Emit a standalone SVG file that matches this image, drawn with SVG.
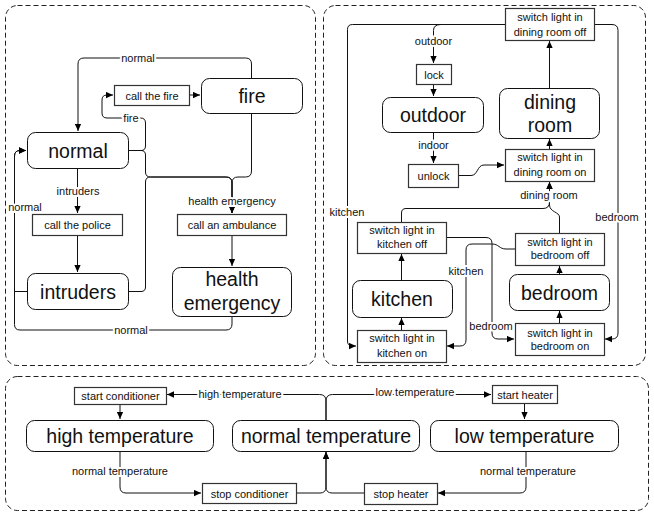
<svg xmlns="http://www.w3.org/2000/svg" width="654" height="516" viewBox="0 0 654 516">
<style>
text{font-family:"Liberation Sans",Arial,sans-serif;text-anchor:middle;fill:#111}
.big{font-size:19.5px}
.sm{font-size:11px}
.lbl{font-size:11px;paint-order:stroke;stroke:#fff;stroke-width:4px;stroke-linejoin:round}
.panel{fill:none;stroke:#222;stroke-width:1;stroke-dasharray:5,3}
.st{fill:#fff;stroke:#111;stroke-width:1}
.ac{fill:#fff;stroke:#333;stroke-width:1.2}
#connectors path{fill:none;stroke:#111;stroke-width:1}
.arr{marker-end:url(#a)}
</style>
<defs>
<marker id="a" viewBox="0 0 10 10" refX="10" refY="5" markerWidth="7" markerHeight="7" orient="auto" markerUnits="userSpaceOnUse"><path d="M0,0.5 L10,5 L0,9.5 z" fill="#000"/></marker>
</defs>
<rect width="654" height="516" fill="#fff"/>
<g id="panels">
<rect class="panel" x="5.5" y="5.5" width="310" height="360" rx="12"/>
<rect class="panel" x="323.5" y="5.5" width="322" height="360" rx="12"/>
<rect class="panel" x="5.5" y="376.5" width="643" height="134" rx="12"/>
</g>
<g id="connectors">
<!-- left panel -->
<path class="arr" d="M251.5,78 V64 q0,-6 -6,-6 H84 q-6,0 -6,6 V131"/>
<path class="arr" d="M128,150.5 H141 q4.5,0 4.5,-4.5 V123 q0,-5 -5,-5 H107 q-5,0 -5,-5 V100 q0,-5 5,-5 H113"/>
<path class="arr" d="M128,150.5 H141 q4.5,0 4.5,4.5 V172 q0,5 5,5 H226 q6,0 6,6 V213"/>
<path class="arr" d="M251.5,113 V171 q0,6 -6,6 H238 q-6,0 -6,6 V213"/>
<path class="arr" d="M128,291.5 H141 q4.5,0 4.5,-4.5 V182 q0,-5 5,-5 H226 q6,0 6,6 V213"/>
<path class="arr" d="M189,95 H200"/>
<path class="arr" d="M77.5,168 V213"/>
<path class="arr" d="M77.5,235 V272"/>
<path class="arr" d="M232,235 V266"/>
<path class="arr" d="M27,291.5 H14.5 V156 q0,-5.5 5.5,-5.5 H26"/>
<path class="arr" d="M232,316 V324 q0,6 -6,6 H20 q-5.5,0 -5.5,-5.5 V156 q0,-5.5 5.5,-5.5 H26"/>
<!-- right panel -->
<path class="arr" d="M505,24.5 H352.5 q-5,0 -5,5 V341 q0,5 5,5 H356"/>
<path class="arr" d="M441,24.5 q-7.5,0 -7.5,6 V63"/>
<path class="arr" d="M594,24.5 H612 q6,0 6,6 V333 q0,6 -6,6 H605"/>
<path class="arr" d="M433.5,84 V96"/>
<path class="arr" d="M433.5,132 V163"/>
<path class="arr" d="M458,175.5 H471 C478,175.5 477,165 484,165 H504"/>
<path class="arr" d="M549.5,149 V139"/>
<path class="arr" d="M549.5,88 V41"/>
<path class="arr" d="M401.5,222 V213 q0,-4.5 4.5,-4.5 H543 q6.5,0 6.5,-6.5 V182"/>
<path class="arr" d="M559.5,233 V217 C559.5,212 549.5,212 549.5,205 V182"/>
<path class="arr" d="M446,237.5 H486 q6,0 6,6 V333 q0,6 6,6 H514"/>
<path class="arr" d="M515,249 H506 C499,249 499,244 492,244 H472 q-6,0 -6,6 V340 q0,6 -6,6 H447"/>
<path class="arr" d="M401.5,330 V318"/>
<path class="arr" d="M401.5,280 V254"/>
<path class="arr" d="M559.5,323 V311"/>
<path class="arr" d="M559.5,274 V266"/>
<!-- bottom panel -->
<path class="arr" d="M326,420 V401 q0,-6.5 -6.5,-6.5 H167"/>
<path class="arr" d="M326,420 V401 q0,-6.5 6.5,-6.5 H491"/>
<path class="arr" d="M120,404 V419"/>
<path class="arr" d="M524.5,403 V419"/>
<path class="arr" d="M120,451 V487 q0,6 6,6 H201"/>
<path class="arr" d="M296,493 H320 q6,0 6,-6 V452"/>
<path class="arr" d="M526,451 V487 q0,6 -6,6 H438"/>
<path class="arr" d="M364,493 H332 q-6,0 -6,-6 V452"/>
</g>
<g id="labels">
<text class="lbl" x="138" y="62">normal</text>
<text class="lbl" x="131" y="122">fire</text>
<text class="lbl" x="78" y="195">intruders</text>
<text class="lbl" x="25" y="211">normal</text>
<text class="lbl" x="232" y="205">health emergency</text>
<text class="lbl" x="131" y="334">normal</text>
<text class="lbl" x="433.5" y="45">outdoor</text>
<text class="lbl" x="433.5" y="149">indoor</text>
<text class="lbl" x="549" y="199">dining room</text>
<text class="lbl" x="347" y="216">kitchen</text>
<text class="lbl" x="617" y="221">bedroom</text>
<text class="lbl" x="466" y="275">kitchen</text>
<text class="lbl" x="491" y="330">bedroom</text>
<text class="lbl" x="240" y="398">high temperature</text>
<text class="lbl" x="415" y="396">low temperature</text>
<text class="lbl" x="120" y="475">normal temperature</text>
<text class="lbl" x="528" y="475">normal temperature</text>
</g>
<g id="fire"><rect class="st" x="201.5" y="78.5" width="101" height="35" rx="8"/><text class="big" x="252" y="103">fire</text></g>
<g id="call-the-fire"><rect class="ac" x="114.5" y="85.5" width="75" height="20"/><text class="sm" x="152" y="99.5">call the fire</text></g>
<g id="normal"><rect class="st" x="27.5" y="132.5" width="101" height="36" rx="8"/><text class="big" x="78" y="157.5">normal</text></g>
<g id="call-the-police"><rect class="ac" x="32.5" y="214.5" width="90" height="21"/><text class="sm" x="77.5" y="229">call the police</text></g>
<g id="intruders"><rect class="st" x="27.5" y="273.5" width="101" height="36" rx="8"/><text class="big" x="78" y="298.5">intruders</text></g>
<g id="call-an-ambulance"><rect class="ac" x="177.5" y="214.5" width="109" height="21"/><text class="sm" x="232" y="229">call an ambulance</text></g>
<g id="health-emergency"><rect class="st" x="172.5" y="267.5" width="119" height="49" rx="8"/><text class="big" x="232" y="286">health</text><text class="big" x="232" y="310">emergency</text></g>
<g id="dining-room-off"><rect class="ac" x="505.5" y="8.5" width="89" height="32"/><text class="sm" x="550" y="21">switch light in</text><text class="sm" x="550" y="36">dining room off</text></g>
<g id="lock"><rect class="ac" x="416.5" y="64.5" width="35" height="20"/><text class="sm" x="434" y="78.5">lock</text></g>
<g id="outdoor"><rect class="st" x="382.5" y="97.5" width="101" height="35" rx="8"/><text class="big" x="433" y="122">outdoor</text></g>
<g id="dining-room"><rect class="st" x="499.5" y="88.5" width="100" height="50" rx="8"/><text class="big" x="550" y="109">dining</text><text class="big" x="550" y="132">room</text></g>
<g id="unlock"><rect class="ac" x="408.5" y="164.5" width="50" height="23"/><text class="sm" x="433.5" y="180">unlock</text></g>
<g id="dining-room-on"><rect class="ac" x="505.5" y="149.5" width="89" height="32"/><text class="sm" x="550" y="161">switch light in</text><text class="sm" x="550" y="176">dining room on</text></g>
<g id="kitchen-off"><rect class="ac" x="357.5" y="222.5" width="89" height="31"/><text class="sm" x="402" y="234">switch light in</text><text class="sm" x="402" y="248">kitchen off</text></g>
<g id="bedroom-off"><rect class="ac" x="515.5" y="233.5" width="89" height="32"/><text class="sm" x="560" y="246">switch light in</text><text class="sm" x="560" y="259">bedroom off</text></g>
<g id="kitchen"><rect class="st" x="352.5" y="280.5" width="100" height="37" rx="8"/><text class="big" x="402" y="306">kitchen</text></g>
<g id="bedroom"><rect class="st" x="509.5" y="274.5" width="100" height="36" rx="8"/><text class="big" x="559.5" y="299.5">bedroom</text></g>
<g id="kitchen-on"><rect class="ac" x="357.5" y="330.5" width="89" height="32"/><text class="sm" x="402" y="342">switch light in</text><text class="sm" x="402" y="357">kitchen on</text></g>
<g id="bedroom-on"><rect class="ac" x="515.5" y="323.5" width="89" height="32"/><text class="sm" x="560" y="337">switch light in</text><text class="sm" x="560" y="350">bedroom on</text></g>
<g id="start-conditioner"><rect class="ac" x="74.5" y="387.5" width="92" height="17"/><text class="sm" x="120.5" y="400">start conditioner</text></g>
<g id="high-temperature"><rect class="st" x="26.5" y="420.5" width="187" height="31" rx="8"/><text class="big" x="120" y="443">high temperature</text></g>
<g id="normal-temperature"><rect class="st" x="232.5" y="420.5" width="187" height="31" rx="8"/><text class="big" x="326" y="443">normal temperature</text></g>
<g id="low-temperature"><rect class="st" x="430.5" y="420.5" width="188" height="31" rx="8"/><text class="big" x="524.5" y="443">low temperature</text></g>
<g id="stop-conditioner"><rect class="ac" x="202.5" y="483.5" width="94" height="20"/><text class="sm" x="249.5" y="497.5">stop conditioner</text></g>
<g id="start-heater"><rect class="ac" x="492.5" y="385.5" width="65" height="18"/><text class="sm" x="525" y="398.5">start heater</text></g>
<g id="stop-heater"><rect class="ac" x="364.5" y="483.5" width="73" height="21"/><text class="sm" x="401" y="498">stop heater</text></g>
</svg>
